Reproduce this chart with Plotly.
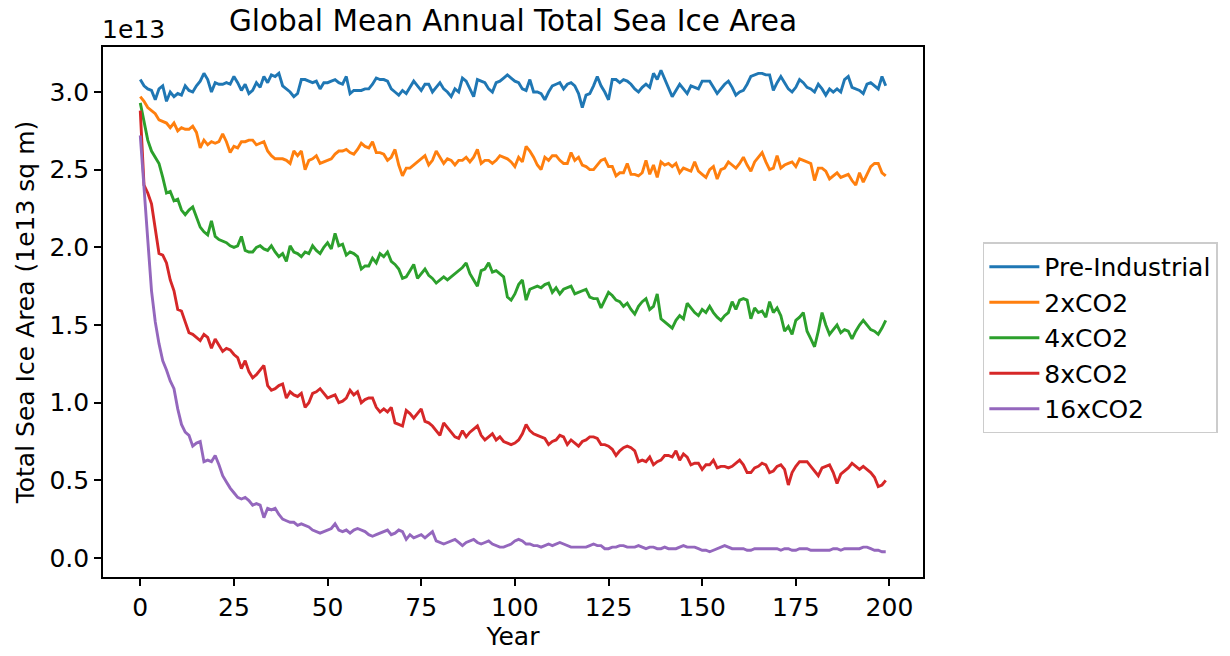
import plotly.graph_objects as go

# Values in units of 1e13 sq m, one per model year (0..199)
pre_industrial = [
    3.08, 3.04, 3.02, 3.01, 2.95, 3.02, 3.04, 2.94, 3.00, 2.97,
    2.99, 2.98, 3.04, 3.01, 3.00, 3.04, 3.07, 3.12, 3.08, 3.00,
    3.06, 3.05, 3.05, 3.06, 3.05, 3.10, 3.06, 3.01, 3.05, 2.99,
    3.01, 3.06, 3.03, 3.10, 3.06, 3.11, 3.10, 3.12, 3.04, 3.02,
    3.00, 2.97, 2.99, 3.08, 3.08, 3.07, 3.06, 3.07, 3.02, 3.06,
    3.06, 3.07, 3.08, 3.06, 3.05, 3.10, 2.99, 3.01, 3.01, 3.01,
    3.02, 3.02, 3.05, 3.09, 3.08, 3.08, 3.07, 3.02, 3.00, 2.98,
    3.01, 2.99, 3.03, 3.07, 3.04, 3.01, 3.05, 3.05, 3.00, 3.03,
    3.06, 3.02, 3.00, 2.97, 3.02, 3.00, 3.09, 3.07, 3.02, 2.97,
    3.08, 3.07, 3.06, 3.02, 3.00, 3.06, 3.07, 3.09, 3.11, 3.09,
    3.07, 3.06, 3.02, 3.01, 3.08, 3.00, 3.00, 2.99, 2.95, 3.00,
    3.04, 3.05, 3.06, 3.02, 3.05, 3.06, 3.04, 2.99, 2.90, 2.98,
    2.99, 3.04, 3.10, 3.04, 3.00, 2.95, 3.08, 3.08, 3.06, 3.08,
    3.07, 3.05, 3.02, 3.00, 3.03, 3.05, 3.03, 3.12, 3.08, 3.14,
    3.08, 3.02, 2.97, 3.01, 3.05, 3.02, 2.99, 3.04, 3.03, 3.02,
    3.07, 3.07, 3.07, 3.03, 2.99, 3.02, 3.05, 3.07, 3.03, 2.98,
    3.00, 3.01, 3.05, 3.10, 3.11, 3.12, 3.12, 3.11, 3.11, 3.01,
    3.06, 3.10, 3.06, 3.02, 3.00, 3.03, 3.08, 3.06, 3.03, 3.02,
    3.00, 3.05, 3.02, 2.98, 3.02, 3.00, 3.02, 3.00, 3.08, 3.10,
    3.03, 3.02, 3.01, 2.99, 3.05, 3.06, 3.04, 3.02, 3.10, 3.04,
]

co2_2x = [
    2.97, 2.94, 2.90, 2.88, 2.86, 2.82, 2.81, 2.80, 2.77, 2.80,
    2.75, 2.77, 2.76, 2.76, 2.78, 2.74, 2.64, 2.69, 2.66, 2.68,
    2.67, 2.68, 2.73, 2.68, 2.61, 2.65, 2.64, 2.68, 2.68, 2.69,
    2.69, 2.66, 2.67, 2.68, 2.62, 2.59, 2.57, 2.57, 2.57, 2.56,
    2.54, 2.62, 2.59, 2.62, 2.50, 2.56, 2.57, 2.59, 2.54, 2.55,
    2.56, 2.57, 2.60, 2.62, 2.62, 2.63, 2.61, 2.60, 2.63, 2.67,
    2.65, 2.64, 2.68, 2.61, 2.61, 2.60, 2.56, 2.58, 2.63, 2.53,
    2.46, 2.51, 2.51, 2.53, 2.55, 2.57, 2.59, 2.53, 2.56, 2.62,
    2.58, 2.54, 2.57, 2.56, 2.53, 2.56, 2.56, 2.58, 2.55, 2.58,
    2.63, 2.54, 2.56, 2.56, 2.54, 2.56, 2.59, 2.58, 2.57, 2.55,
    2.52, 2.58, 2.55, 2.65, 2.62, 2.58, 2.53, 2.50, 2.58, 2.56,
    2.59, 2.59, 2.56, 2.54, 2.54, 2.61, 2.56, 2.58, 2.53, 2.52,
    2.50, 2.50, 2.53, 2.56, 2.57, 2.52, 2.52, 2.46, 2.48, 2.48,
    2.54, 2.47, 2.47, 2.46, 2.48, 2.56, 2.47, 2.53, 2.45, 2.55,
    2.53, 2.54, 2.52, 2.54, 2.48, 2.51, 2.50, 2.49, 2.55, 2.49,
    2.47, 2.45, 2.50, 2.52, 2.44, 2.50, 2.51, 2.55, 2.53, 2.51,
    2.54, 2.58, 2.53, 2.49, 2.55, 2.58, 2.61, 2.55, 2.50, 2.51,
    2.59, 2.51, 2.53, 2.54, 2.55, 2.52, 2.57, 2.56, 2.55, 2.54,
    2.43, 2.51, 2.51, 2.49, 2.44, 2.46, 2.48, 2.45, 2.46, 2.47,
    2.43, 2.40, 2.48, 2.42, 2.47, 2.52, 2.54, 2.54, 2.48, 2.46,
]

co2_4x = [
    2.93, 2.80, 2.69, 2.62, 2.58, 2.54, 2.45, 2.35, 2.36, 2.30,
    2.31, 2.24, 2.21, 2.24, 2.26, 2.20, 2.13, 2.10, 2.08, 2.17,
    2.07, 2.05, 2.04, 2.03, 2.01, 2.00, 2.01, 2.07, 1.98, 1.97,
    1.97, 2.00, 2.01, 1.99, 1.98, 2.01, 1.97, 1.94, 1.96, 1.91,
    2.01, 1.97, 1.96, 1.94, 1.97, 1.96, 2.01, 1.98, 1.96, 2.00,
    2.03, 1.99, 2.09, 2.01, 2.02, 1.95, 1.97, 1.96, 1.94, 1.86,
    1.88, 1.88, 1.93, 1.90, 1.96, 1.94, 1.97, 1.91, 1.89, 1.86,
    1.80, 1.81, 1.85, 1.89, 1.80, 1.83, 1.86, 1.82, 1.80, 1.77,
    1.79, 1.81, 1.79, 1.81, 1.83, 1.85, 1.87, 1.90, 1.83, 1.79,
    1.75, 1.85, 1.86, 1.90, 1.84, 1.85, 1.83, 1.81, 1.68, 1.66,
    1.70, 1.76, 1.79, 1.66, 1.73, 1.74, 1.75, 1.74, 1.76, 1.77,
    1.71, 1.74, 1.70, 1.73, 1.74, 1.75, 1.70, 1.71, 1.72, 1.73,
    1.68, 1.67, 1.67, 1.61, 1.66, 1.71, 1.69, 1.66, 1.65, 1.62,
    1.64, 1.60, 1.57, 1.62, 1.65, 1.67, 1.60, 1.62, 1.70, 1.54,
    1.52, 1.50, 1.48, 1.53, 1.56, 1.54, 1.64, 1.61, 1.58, 1.56,
    1.60, 1.58, 1.62, 1.58, 1.55, 1.53, 1.56, 1.58, 1.65, 1.60,
    1.66, 1.67, 1.66, 1.54, 1.61, 1.58, 1.59, 1.55, 1.65, 1.58,
    1.61, 1.56, 1.46, 1.49, 1.44, 1.53, 1.55, 1.58, 1.46, 1.41,
    1.36, 1.46, 1.58, 1.50, 1.44, 1.47, 1.50, 1.45, 1.47, 1.46,
    1.41, 1.46, 1.50, 1.53, 1.50, 1.47, 1.46, 1.44, 1.48, 1.53,
]

co2_8x = [
    2.88, 2.40, 2.35, 2.28, 2.12, 1.96, 1.95, 1.90, 1.79, 1.72,
    1.60, 1.59, 1.52, 1.45, 1.44, 1.42, 1.40, 1.44, 1.42, 1.35,
    1.41, 1.37, 1.33, 1.35, 1.34, 1.31, 1.29, 1.22, 1.27, 1.20,
    1.16, 1.18, 1.21, 1.24, 1.11, 1.08, 1.09, 1.11, 1.12, 1.03,
    1.07, 1.05, 1.04, 1.06, 0.97, 1.00, 1.06, 1.07, 1.09, 1.06,
    1.03, 1.04, 1.05, 1.00, 1.01, 1.03, 1.08, 1.05, 1.07, 1.00,
    1.02, 1.03, 1.03, 0.97, 0.94, 0.96, 0.94, 0.97, 0.87, 0.86,
    0.85, 0.95, 0.93, 0.90, 0.93, 0.96, 0.88, 0.87, 0.85, 0.82,
    0.79, 0.87, 0.84, 0.81, 0.78, 0.77, 0.82, 0.78, 0.81, 0.83,
    0.85, 0.79, 0.76, 0.78, 0.80, 0.76, 0.78, 0.75, 0.74, 0.73,
    0.74, 0.76, 0.80, 0.86, 0.82, 0.80, 0.79, 0.78, 0.77, 0.73,
    0.75, 0.76, 0.79, 0.78, 0.73, 0.76, 0.74, 0.72, 0.75, 0.76,
    0.78, 0.78, 0.77, 0.73, 0.73, 0.72, 0.70, 0.66, 0.69, 0.71,
    0.72, 0.71, 0.69, 0.62, 0.63, 0.62, 0.65, 0.60, 0.62, 0.63,
    0.66, 0.66, 0.65, 0.69, 0.63, 0.67, 0.65, 0.60, 0.61, 0.61,
    0.57, 0.60, 0.60, 0.63, 0.58, 0.59, 0.59, 0.58, 0.59, 0.61,
    0.63, 0.60, 0.55, 0.55, 0.58, 0.59, 0.61, 0.60, 0.55, 0.56,
    0.59, 0.60, 0.57, 0.47, 0.55, 0.59, 0.62, 0.62, 0.62, 0.59,
    0.56, 0.53, 0.58, 0.59, 0.60, 0.55, 0.48, 0.54, 0.56, 0.58,
    0.61, 0.59, 0.57, 0.59, 0.57, 0.55, 0.52, 0.46, 0.47, 0.50,
]

co2_16x = [
    2.72, 2.35, 2.05, 1.72, 1.52, 1.38, 1.27, 1.21, 1.14, 1.09,
    0.96, 0.86, 0.81, 0.79, 0.72, 0.74, 0.75, 0.62, 0.63, 0.62,
    0.66, 0.60, 0.53, 0.49, 0.45, 0.42, 0.39, 0.38, 0.39, 0.37,
    0.34, 0.35, 0.34, 0.26, 0.32, 0.31, 0.32, 0.28, 0.25, 0.24,
    0.23, 0.23, 0.21, 0.22, 0.21, 0.20, 0.18, 0.17, 0.16, 0.17,
    0.18, 0.19, 0.22, 0.18, 0.17, 0.18, 0.16, 0.18, 0.19, 0.18,
    0.17, 0.15, 0.14, 0.15, 0.16, 0.17, 0.18, 0.15, 0.16, 0.18,
    0.17, 0.12, 0.15, 0.13, 0.14, 0.15, 0.13, 0.15, 0.17, 0.11,
    0.10, 0.09, 0.10, 0.11, 0.12, 0.10, 0.08, 0.10, 0.11, 0.12,
    0.10, 0.09, 0.10, 0.11, 0.09, 0.08, 0.07, 0.07, 0.08, 0.09,
    0.11, 0.12, 0.11, 0.09, 0.09, 0.08, 0.08, 0.07, 0.08, 0.09,
    0.08, 0.09, 0.10, 0.09, 0.08, 0.07, 0.07, 0.07, 0.07, 0.07,
    0.08, 0.09, 0.08, 0.08, 0.06, 0.06, 0.07, 0.07, 0.08, 0.08,
    0.07, 0.07, 0.07, 0.08, 0.07, 0.06, 0.07, 0.07, 0.06, 0.06,
    0.07, 0.06, 0.06, 0.06, 0.07, 0.08, 0.07, 0.07, 0.07, 0.06,
    0.05, 0.05, 0.04, 0.05, 0.06, 0.07, 0.08, 0.07, 0.06, 0.06,
    0.06, 0.06, 0.05, 0.05, 0.06, 0.06, 0.06, 0.06, 0.06, 0.06,
    0.06, 0.05, 0.06, 0.06, 0.05, 0.05, 0.06, 0.06, 0.06, 0.05,
    0.05, 0.05, 0.05, 0.05, 0.05, 0.06, 0.06, 0.05, 0.06, 0.06,
    0.06, 0.06, 0.06, 0.07, 0.07, 0.06, 0.05, 0.05, 0.04, 0.04,
]

series_names = ["Pre-Industrial", "2xCO2", "4xCO2", "8xCO2", "16xCO2"]
series_values = [pre_industrial, co2_2x, co2_4x, co2_8x, co2_16x]
series_colors = ["#1f77b4", "#ff7f0e", "#2ca02c", "#d62728", "#9467bd"]

x_ticks = [0, 25, 50, 75, 100, 125, 150, 175, 200]
y_ticks = [0.0, 0.5, 1.0, 1.5, 2.0, 2.5, 3.0]

FONT = "DejaVu Sans"
TXT = 25

fig = go.Figure()
for name, vals, col in zip(series_names, series_values, series_colors):
    fig.add_trace(go.Scatter(
        x=list(range(len(vals))), y=vals, mode="lines", name=name,
        line=dict(color=col, width=2.9),
    ))

axis_common = dict(
    showgrid=False, zeroline=False, showline=True, linecolor="black",
    linewidth=1.6, mirror=True, ticks="outside", ticklen=7, tickwidth=1.6,
    tickcolor="black", tickfont=dict(family=FONT, size=TXT, color="black"),
)

fig.update_layout(
    width=1230, height=656,
    margin=dict(l=103, r=307, t=47, b=79),
    paper_bgcolor="white", plot_bgcolor="white",
    font=dict(family=FONT, color="black"),
    title=dict(text="Global Mean Annual Total Sea Ice Area",
               font=dict(family=FONT, size=29.5, color="black"),
               x=(103 + 923) / 2 / 1230, xanchor="center",
               y=1 - 21 / 656, yanchor="middle", yref="container"),
    xaxis=dict(range=[-9.95, 208.95], tickvals=x_ticks,
               title=dict(text="Year", font=dict(family=FONT, size=TXT, color="black"), standoff=4),
               **axis_common),
    yaxis=dict(range=[-0.1223, 3.2897], tickvals=y_ticks, tickformat=".1f",
               title=dict(text="Total Sea Ice Area (1e13 sq m)",
                          font=dict(family=FONT, size=TXT, color="black"), standoff=8),
               **axis_common),
    legend=dict(x=1.073, xanchor="left", y=0.451, yanchor="middle",
                font=dict(family=FONT, size=TXT, color="black"),
                bordercolor="#cccccc", borderwidth=1.5, bgcolor="white",
                itemwidth=50),
    showlegend=True,
)

fig.add_annotation(text="1e13", xref="paper", yref="paper", x=0, y=1,
                   xanchor="left", yanchor="bottom", showarrow=False, xshift=-3, yshift=1,
                   font=dict(family=FONT, size=TXT, color="black"))

fig.write_html("out.html")
